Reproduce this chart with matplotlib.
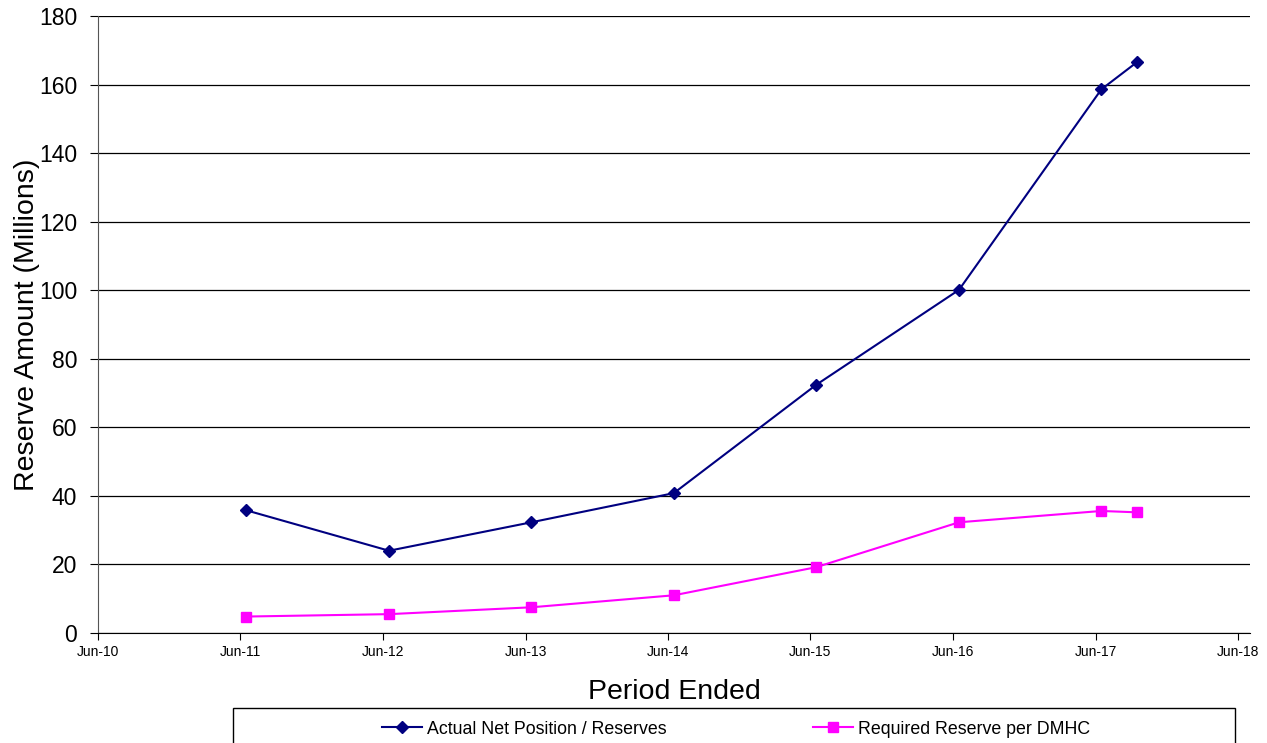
import datetime as dt
import matplotlib
matplotlib.use("Agg")
import matplotlib.pyplot as plt
import matplotlib.dates as mdates
from matplotlib.patches import Rectangle

plt.rcParams['font.family'] = ['Liberation Sans', 'DejaVu Sans']

# reserve history, in millions
period_end = [dt.date(2011, 6, 30), dt.date(2012, 6, 30), dt.date(2013, 6, 30),
              dt.date(2014, 6, 30), dt.date(2015, 6, 30), dt.date(2016, 6, 30),
              dt.date(2017, 6, 30), dt.date(2017, 9, 30)]
actual_reserves = [35.8, 24.0, 32.3, 40.8, 72.4, 100.1, 158.6, 166.6]
required_dmhc = [4.8, 5.5, 7.5, 11.0, 19.2, 32.3, 35.6, 35.2]

tick_dates = [dt.date(y, 6, 15) for y in range(2010, 2019)]
tick_labels = [d.strftime('%b-%y') for d in tick_dates]

fig = plt.figure(figsize=(12.67, 7.43), dpi=100)
ax = fig.add_axes([98 / 1267, 1 - 633 / 743, (1250 - 98) / 1267, (633 - 16) / 743])

l1, = ax.plot(period_end, actual_reserves, color='#000080', lw=1.5,
              marker='D', markersize=6.5, label='Actual Net Position / Reserves')
l2, = ax.plot(period_end, required_dmhc, color='#FF00FF', lw=1.5,
              marker='s', markersize=7, label='Required Reserve per DMHC')

ax.set_ylim(0, 180)
ax.set_yticks(range(0, 181, 20))
ax.set_xlim(mdates.date2num(dt.date(2010, 6, 15)), mdates.date2num(dt.date(2018, 6, 15)) + 31)
ax.set_xticks(mdates.date2num(tick_dates))
ax.set_xticklabels(tick_labels)

ax.grid(axis='y', color='black', lw=0.9)
ax.set_axisbelow(True)
for side in ('top', 'right'):
    ax.spines[side].set_visible(False)
ax.spines['left'].set_color('#555555')
ax.spines['bottom'].set_color('black')
ax.tick_params(axis='y', labelsize=16.5, length=6, color='black', pad=9)
ax.tick_params(axis='x', labelsize=10, length=5, color='black', pad=4)

ax.set_ylabel('Reserve Amount (Millions)', fontsize=20.5, labelpad=-1)
ax.set_xlabel('Period Ended', fontsize=20.5, labelpad=14)

# legend box along the bottom edge
fig.patches.append(Rectangle((233 / 1267, -20 / 743), (1235 - 233) / 1267, (743 - 708 + 20) / 743,
                             transform=fig.transFigure, fill=False, edgecolor='black', lw=1))
fig.legend(handles=[l1, l2], loc='center', bbox_to_anchor=(736 / 1267, 1 - 729 / 743),
           ncol=2, frameon=False, fontsize=12.8, handlelength=2.25, handletextpad=0.28,
           columnspacing=8.2)

fig.savefig('out.png', dpi=100)
